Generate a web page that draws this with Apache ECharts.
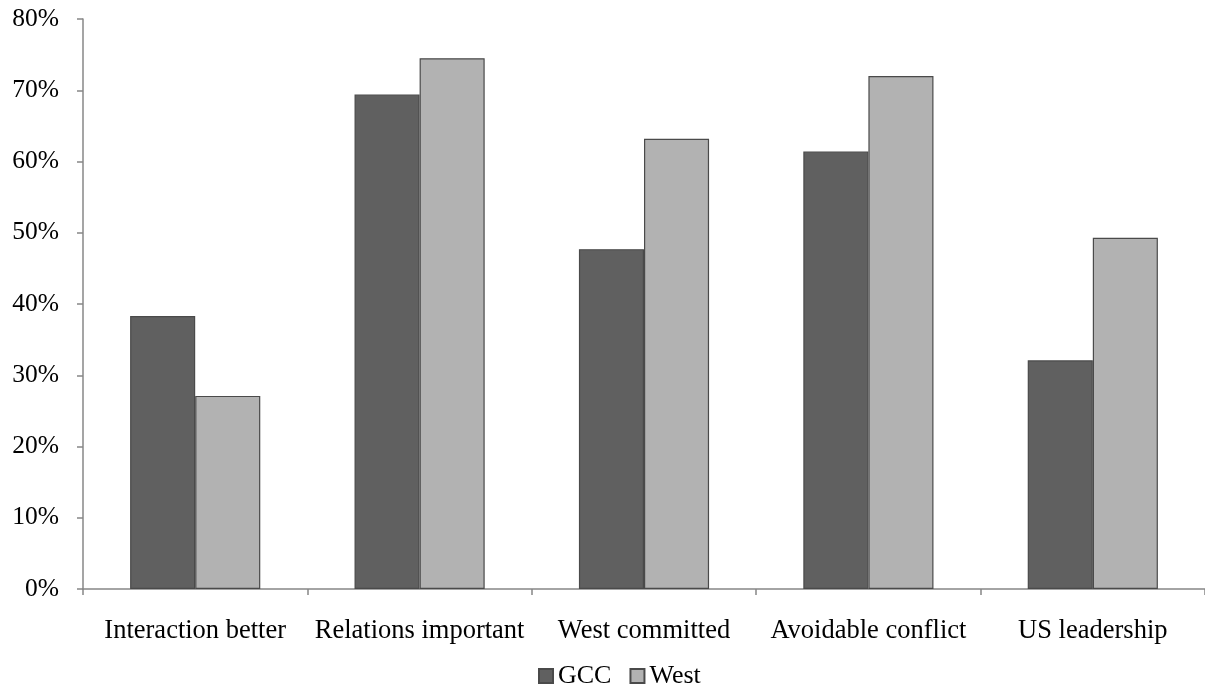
<!DOCTYPE html>
<html>
<head>
<meta charset="utf-8">
<style>
html, body { margin: 0; padding: 0; background: #fff; }
#chart { width: 1205px; height: 689px; }
</style>
</head>
<body>
<div id="chart"></div>
<script src="https://cdn.jsdelivr.net/npm/echarts@6/dist/echarts.min.js"></script>
<script>
var categories = ['Interaction better', 'Relations important', 'West committed', 'Avoidable conflict', 'US leadership'];
var gccValues = [38.3, 69.4, 47.7, 61.4, 32.1];
var westValues = [27.1, 74.5, 63.2, 72.0, 49.3];
var yTicks = [0, 10, 20, 30, 40, 50, 60, 70, 80];

var font = '"Liberation Serif", "Times New Roman", serif';
var axisGray = '#878787';

var myChart = echarts.init(document.getElementById('chart'));
var option = {
    animation: false,
    textStyle: { fontFamily: font },
    grid: { left: 83, top: 19, width: 1127, height: 570, containLabel: false },
    legend: {
        top: 663,
        left: 538,
        padding: 0,
        itemWidth: 14,
        itemHeight: 14,
        itemGap: 18,
        icon: 'rect',
        textStyle: { fontFamily: font, fontSize: 26, color: '#000' },
        data: ['GCC', 'West']
    },
    xAxis: {
        type: 'category',
        data: categories,
        axisLine: { lineStyle: { color: axisGray, width: 1.5 } },
        axisTick: { show: true, length: 6, lineStyle: { color: axisGray, width: 1.5 } },
        axisLabel: { fontFamily: font, fontSize: 26.5, color: '#000', margin: 29, interval: 0 },
        splitLine: { show: false }
    },
    yAxis: {
        type: 'value',
        min: yTicks[0],
        max: yTicks[yTicks.length - 1],
        interval: 10,
        axisLine: { show: true, lineStyle: { color: axisGray, width: 1.5 } },
        axisTick: { show: true, length: 6, lineStyle: { color: axisGray, width: 1.5 } },
        axisLabel: { fontFamily: font, fontSize: 25.5, color: '#000', margin: 24, formatter: '{value}%' },
        splitLine: { show: false }
    },
    series: [{
        name: 'GCC',
        type: 'bar',
        data: gccValues,
        barGap: '0%',
        barCategoryGap: '42%',
        itemStyle: { color: '#606060', borderColor: '#4a4a4a', borderWidth: 1.2 }
    }, {
        name: 'West',
        type: 'bar',
        data: westValues,
        itemStyle: { color: '#b2b2b2', borderColor: '#4a4a4a', borderWidth: 1.2 }
    }]
};
myChart.setOption(option);
</script>
</body>
</html>
